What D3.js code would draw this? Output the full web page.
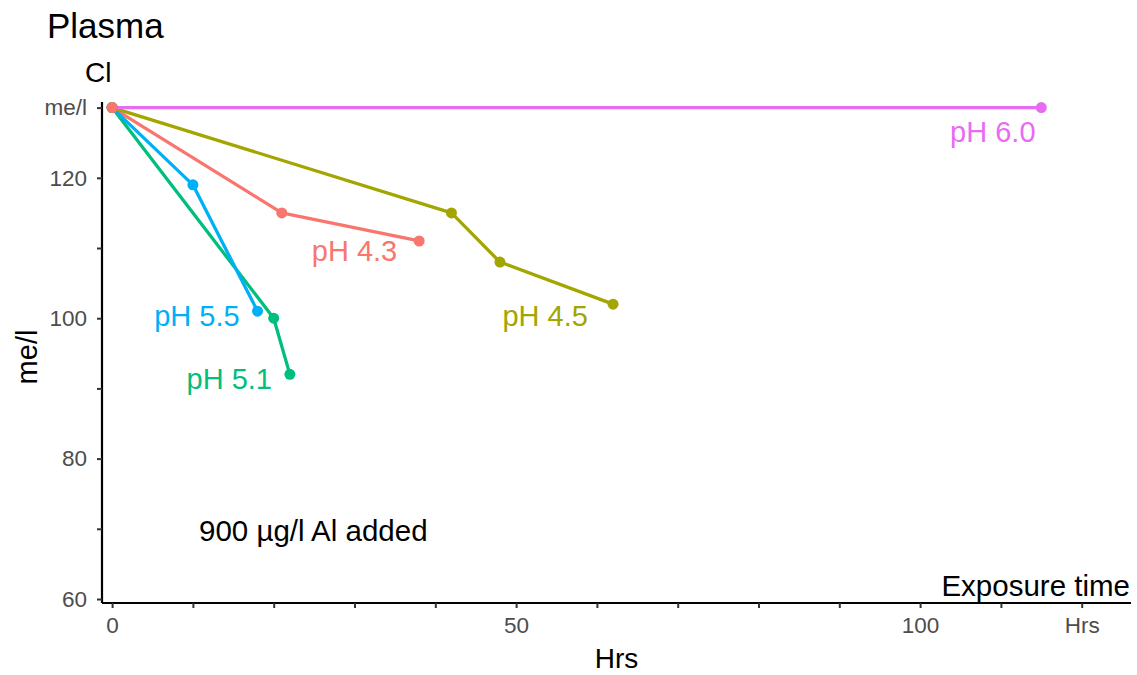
<!DOCTYPE html>
<html>
<head>
<meta charset="utf-8">
<script src="https://cdn.jsdelivr.net/npm/d3@7"></script>
<style>
  body { margin: 0; background: #fff; }
  text { font-family: "Liberation Sans", Arial, sans-serif; }
</style>
</head>
<body>
<svg id="chart" width="1137" height="675"></svg>
<script>
// DATA
const seriesNames = ["pH 4.3", "pH 4.5", "pH 5.1", "pH 5.5", "pH 6.0"];
const seriesColors = ["#F8766D", "#A3A500", "#00BF7D", "#00B0F6", "#E76BF3"];
const hours = [
    [0, 21, 38],
    [0, 42, 48, 62],
    [0, 20, 22],
    [0, 10, 18],
    [0, 115]
];
const chloride = [
    [130, 115, 111],
    [130, 115, 108, 102],
    [130, 100, 92],
    [130, 119, 101],
    [130, 130]
];
// where each series label sits (data units)
const labelHours = [30, 53.6, 14.5, 10.5, 109];
const labelChloride = [109.6, 100.4, 91.4, 100.4, 126.6];

const xTicks = [0, 10, 20, 30, 40, 50, 60, 70, 80, 90, 100, 110, 120];
const xTickLabels = ["0", "", "", "", "", "50", "", "", "", "", "100", "", "Hrs"];
const yTicks = [60, 70, 80, 90, 100, 110, 120, 130];
const yTickLabels = ["60", "", "80", "", "100", "", "120", "me/l"];

const noteText = "900 µg/l Al added";
const noteHours = 24.9;
const noteChloride = 69.8;

// ---------------------------------------------------------------------------------
// SET-UP

const svg = d3.select("#chart");
const plotLeft = 102, plotRight = 1131, plotTop = 102, plotBottom = 603;

const x = d3.scaleLinear().domain([-1.25, 126.1]).range([plotLeft, plotRight]);
const y = d3.scaleLinear().domain([59.43, 130.8]).range([plotBottom, plotTop]);

// building one record per series
let series = seriesNames.map(function(name, i) {
    return {
        name: name,
        color: seriesColors[i],
        points: hours[i].map((h, j) => ({h: h, c: chloride[i][j]})),
        lx: labelHours[i],
        ly: labelChloride[i]
    };
});

// ---------------------------------------------------------------------------------
// AXES

const xAxis = svg.append("g")
    .attr("transform", `translate(0,${plotBottom})`)
    .call(d3.axisBottom(x).tickValues(xTicks)
        .tickFormat((d, i) => xTickLabels[i]).tickSizeOuter(0).tickSize(5).tickPadding(9));

const yAxis = svg.append("g")
    .attr("transform", `translate(${plotLeft},0)`)
    .call(d3.axisLeft(y).tickValues(yTicks)
        .tickFormat((d, i) => yTickLabels[i]).tickSizeOuter(0).tickSize(5).tickPadding(10));

[xAxis, yAxis].forEach(function(ax) {
    ax.select(".domain").attr("stroke", "#000").attr("stroke-width", 2.2);
    ax.selectAll(".tick line").attr("stroke", "#333").attr("stroke-width", 2);
    ax.selectAll(".tick text")
        .attr("fill", "#4D4D4D")
        .style("font-size", "22.5px")
        .style("font-family", "'Liberation Sans', Arial, sans-serif");
});
xAxis.select(".domain").attr("d", `M${plotLeft},0H${plotRight}`);
yAxis.select(".domain").attr("d", `M0,${plotTop}V${plotBottom}`);

// ---------------------------------------------------------------------------------
// LINES AND POINTS

const line = d3.line().x(d => x(d.h)).y(d => y(d.c));

svg.append("g").selectAll("path")
    .data(series)
    .join("path")
    .attr("d", d => line(d.points))
    .attr("fill", "none")
    .attr("stroke", d => d.color)
    .attr("stroke-width", 3.3)
    .attr("stroke-linejoin", "round");

// points drawn in reverse so the first series ends up on top
svg.append("g").selectAll("g")
    .data(series.slice().reverse())
    .join("g")
    .attr("fill", d => d.color)
    .selectAll("circle")
    .data(d => d.points)
    .join("circle")
    .attr("cx", d => x(d.h))
    .attr("cy", d => y(d.c))
    .attr("r", 5.5);

svg.append("g").selectAll("text")
    .data(series)
    .join("text")
    .attr("x", d => x(d.lx))
    .attr("y", d => y(d.ly))
    .attr("dy", "0.36em")
    .attr("text-anchor", "middle")
    .attr("fill", d => d.color)
    .style("font-size", "29px")
    .text(d => d.name);

// ---------------------------------------------------------------------------------
// TEXT

svg.append("text")
    .attr("x", x(noteHours)).attr("y", y(noteChloride))
    .attr("dy", "0.36em")
    .attr("text-anchor", "middle")
    .style("font-size", "29.5px")
    .text(noteText);

svg.append("text").attr("x", 47).attr("y", 38)
    .style("font-size", "35px").text("Plasma");

svg.append("text").attr("x", 85).attr("y", 82)
    .style("font-size", "28px").text("Cl");

svg.append("text")
    .attr("transform", "translate(37,357) rotate(-90)")
    .attr("text-anchor", "middle")
    .style("font-size", "29px").text("me/l");

svg.append("text")
    .attr("x", (plotLeft + plotRight) / 2).attr("y", 668)
    .attr("text-anchor", "middle")
    .style("font-size", "28px").text("Hrs");

svg.append("text")
    .attr("x", 1130).attr("y", 596)
    .attr("text-anchor", "end")
    .style("font-size", "29.5px").text("Exposure time");
</script>
</body>
</html>
